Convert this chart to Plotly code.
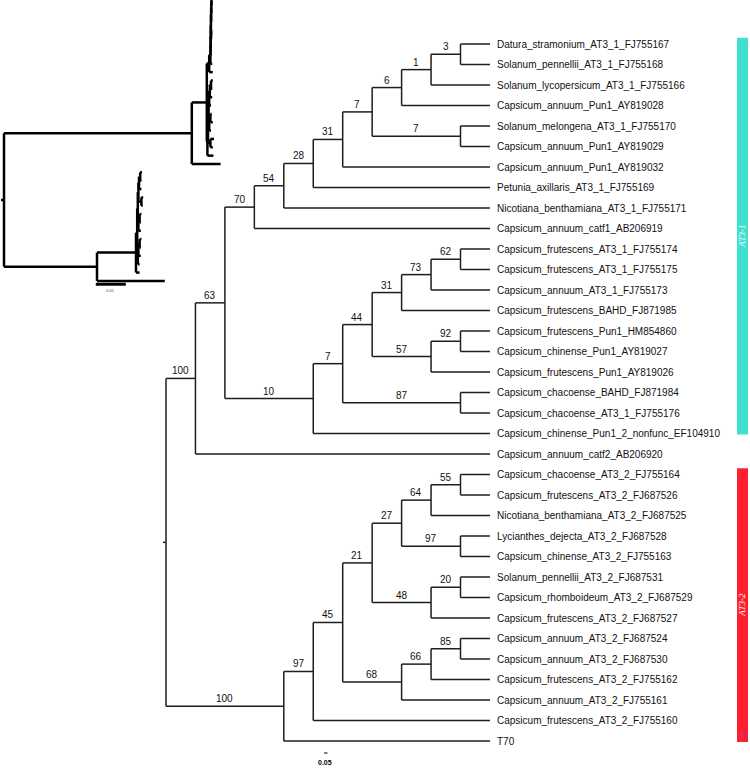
import plotly.graph_objects as go

# ---------------- data ----------------
leaf_names = [
    "Datura_stramonium_AT3_1_FJ755167",
    "Solanum_pennellii_AT3_1_FJ755168",
    "Solanum_lycopersicum_AT3_1_FJ755166",
    "Capsicum_annuum_Pun1_AY819028",
    "Solanum_melongena_AT3_1_FJ755170",
    "Capsicum_annuum_Pun1_AY819029",
    "Capsicum_annuum_Pun1_AY819032",
    "Petunia_axillaris_AT3_1_FJ755169",
    "Nicotiana_benthamiana_AT3_1_FJ755171",
    "Capsicum_annuum_catf1_AB206919",
    "Capsicum_frutescens_AT3_1_FJ755174",
    "Capsicum_frutescens_AT3_1_FJ755175",
    "Capsicum_annuum_AT3_1_FJ755173",
    "Capsicum_frutescens_BAHD_FJ871985",
    "Capsicum_frutescens_Pun1_HM854860",
    "Capsicum_chinense_Pun1_AY819027",
    "Capsicum_frutescens_Pun1_AY819026",
    "Capsicum_chacoense_BAHD_FJ871984",
    "Capsicum_chacoense_AT3_1_FJ755176",
    "Capsicum_chinense_Pun1_2_nonfunc_EF104910",
    "Capsicum_annuum_catf2_AB206920",
    "Capsicum_chacoense_AT3_2_FJ755164",
    "Capsicum_frutescens_AT3_2_FJ687526",
    "Nicotiana_benthamiana_AT3_2_FJ687525",
    "Lycianthes_dejecta_AT3_2_FJ687528",
    "Capsicum_chinense_AT3_2_FJ755163",
    "Solanum_pennellii_AT3_2_FJ687531",
    "Capsicum_rhomboideum_AT3_2_FJ687529",
    "Capsicum_frutescens_AT3_2_FJ687527",
    "Capsicum_annuum_AT3_2_FJ687524",
    "Capsicum_annuum_AT3_2_FJ687530",
    "Capsicum_frutescens_AT3_2_FJ755162",
    "Capsicum_annuum_AT3_2_FJ755161",
    "Capsicum_frutescens_AT3_2_FJ755160",
    "T70",
]

# internal nodes: children listed top to bottom (ints = leaf indices)
node_children = {
    "n3": [0, 1], "n1": ["n3", 2], "n6": ["n1", 3], "n7b": [4, 5],
    "n7a": ["n6", "n7b"], "n31": ["n7a", 6], "n28": ["n31", 7],
    "n54": ["n28", 8], "n70": ["n54", 9],
    "n62": [10, 11], "n73": ["n62", 12], "n31b": ["n73", 13],
    "n92": [14, 15], "n57": ["n92", 16], "n44": ["n31b", "n57"],
    "n87": [17, 18], "n7c": ["n44", "n87"], "n10": ["n7c", 19],
    "n63": ["n70", "n10"], "n100a": ["n63", 20],
    "n55": [21, 22], "n64": ["n55", 23], "n97b": [24, 25],
    "n27": ["n64", "n97b"], "n20": [26, 27], "n48": ["n20", 28],
    "n21": ["n27", "n48"], "n85": [29, 30], "n66": ["n85", 31],
    "n68": ["n66", 32], "n45": ["n21", "n68"], "n97": ["n45", 33],
    "n100b": ["n97", 34],
    "root": ["n100a", "n100b"],
}

node_support = {
    "n3": 3, "n1": 1, "n6": 6, "n7b": 7, "n7a": 7, "n31": 31, "n28": 28,
    "n54": 54, "n70": 70, "n62": 62, "n73": 73, "n31b": 31, "n92": 92,
    "n57": 57, "n44": 44, "n87": 87, "n7c": 7, "n10": 10, "n63": 63,
    "n100a": 100, "n55": 55, "n64": 64, "n97b": 97, "n27": 27, "n20": 20,
    "n48": 48, "n21": 21, "n85": 85, "n66": 66, "n68": 68, "n45": 45,
    "n97": 97, "n100b": 100,
}

# inset phylogram branch lengths (substitutions/site, estimated)
inset_node_len = {
    "root": 0.0, "n100a": 0.313, "n100b": 0.155, "n63": 0.025,
    "n70": 0.004, "n54": 0.002, "n28": 0.0003, "n31": 0.0003, "n7a": 0.0003,
    "n6": 0.0003, "n1": 0.0003, "n3": 0.0003, "n7b": 0.0003,
    "n10": 0.001, "n7c": 0.001, "n44": 0.001, "n31b": 0.001, "n73": 0.001,
    "n62": 0.002, "n92": 0.002, "n57": 0.001, "n87": 0.004,
    "n97": 0.065, "n45": 0.002, "n21": 0.001, "n27": 0.001, "n64": 0.001,
    "n55": 0.002, "n97b": 0.005, "n48": 0.001, "n20": 0.002, "n68": 0.001,
    "n66": 0.001, "n85": 0.002,
}
inset_leaf_len = [
    0.0003, 0.0003, 0.0003, 0.0003, 0.0003, 0.0003, 0.0003, 0.0003, 0.003, 0.006,
    0.003, 0.002, 0.004, 0.003, 0.002, 0.004, 0.003, 0.006, 0.004, 0.010,
    0.048,
    0.003, 0.002, 0.004, 0.003, 0.002, 0.003, 0.002, 0.004, 0.003, 0.002,
    0.004, 0.003, 0.006,
    0.113,
]

clade_bars = [("AT3-1", 0, 19, "#40E0D0"), ("AT3-2", 21, 34, "#FF1E2B")]
scale_value = 0.05

# ---------------- layout helpers ----------------
def is_leaf(n):
    return isinstance(n, int)

def height(n):
    if is_leaf(n):
        return 0
    return 1 + max(height(c) for c in node_children[n])

N_LEVELS = height("root")

def level(n):
    return N_LEVELS - height(n)

def ypos(n):
    if is_leaf(n):
        return float(n)
    ch = node_children[n]
    return (ypos(ch[0]) + ypos(ch[-1])) / 2.0

parent = {}
for p, ch in node_children.items():
    for c in ch:
        parent[c] = p

# main cladogram segments
mx, my = [], []
for n, ch in node_children.items():
    xn = level(n)
    mx += [xn, xn, None]
    my += [ypos(ch[0]), ypos(ch[-1]), None]
    for c in ch:
        mx += [xn, level(c), None]
        my += [ypos(c), ypos(c), None]
mx += [level("root") - 0.1, level("root"), None]
my += [ypos("root"), ypos("root"), None]

# inset phylogram positions
def inset_x(n):
    if n == "root":
        return 0.0
    ln = inset_leaf_len[n] if is_leaf(n) else inset_node_len[n]
    return inset_x(parent[n]) + ln

ix, iy = [], []
for n, ch in node_children.items():
    xn = inset_x(n)
    ix += [xn, xn, None]
    iy += [ypos(ch[0]), ypos(ch[-1]), None]
    for c in ch:
        ix += [xn, inset_x(c), None]
        iy += [ypos(c), ypos(c), None]
ix += [-0.005, 0.0, None]
iy += [ypos("root"), ypos("root"), None]

fig = go.Figure()
fig.add_trace(go.Scatter(x=mx, y=my, mode="lines",
                         line=dict(color="#1e1e1e", width=1.5),
                         hoverinfo="skip", xaxis="x", yaxis="y"))
fig.add_trace(go.Scatter(x=ix, y=iy, mode="lines",
                         line=dict(color="black", width=2.5),
                         hoverinfo="skip", xaxis="x2", yaxis="y2"))
# inset scale bar
fig.add_trace(go.Scatter(x=[0.153, 0.153 + scale_value], y=[34.4, 34.4], mode="lines",
                         line=dict(color="black", width=3),
                         hoverinfo="skip", xaxis="x2", yaxis="y2"))

FONT = "Arial, 'Liberation Sans', sans-serif"
ann = []
for i, name in enumerate(leaf_names):
    ann.append(dict(x=level(i), y=i, xref="x", yref="y", text=name,
                    showarrow=False, xanchor="left", yanchor="middle", xshift=5,
                    font=dict(family=FONT, size=10, color="#111111")))
for n, s in node_support.items():
    xm = (level(parent[n]) + level(n)) / 2.0
    ann.append(dict(x=xm, y=ypos(n), xref="x", yref="y", text=str(s),
                    showarrow=False, xanchor="center", yanchor="bottom", yshift=0,
                    font=dict(family=FONT, size=10, color="#111111")))

shapes = []
for label, a, b, col in clade_bars:
    y0, y1 = a - 0.3, b + 0.05
    shapes.append(dict(type="rect", xref="paper", yref="y",
                       x0=737 / 750, x1=748 / 750, y0=y0, y1=y1,
                       fillcolor=col, line=dict(width=0), layer="below"))
    ann.append(dict(x=742.5 / 750, y=(y0 + y1) / 2, xref="paper", yref="y",
                    text="<i>" + label + "</i>", textangle=-90, showarrow=False,
                    xanchor="center", yanchor="middle",
                    font=dict(family="'Liberation Serif', 'Times New Roman', serif",
                              size=9, color="#ffffff")))
ann.append(dict(x=742.5 / 750, y=33.75, xref="paper", yref="y", text="★",
                showarrow=False, xanchor="center", yanchor="middle",
                font=dict(family="'DejaVu Sans', sans-serif", size=7, color="#8a3fe0")))

# main scale bar
shapes.append(dict(type="line", xref="paper", yref="paper",
                   x0=324 / 750, x1=327.5 / 750, y0=1 - 753 / 768, y1=1 - 753 / 768,
                   line=dict(color="black", width=1)))
ann.append(dict(x=325 / 750, y=1 - 762 / 768, xref="paper", yref="paper",
                text="<b>0.05</b>", showarrow=False, xanchor="center", yanchor="middle",
                font=dict(family=FONT, size=7, color="black")))
# inset scale label
ann.append(dict(x=0.178, y=35.1, xref="x2", yref="y2", text="0.05",
                showarrow=False, font=dict(family=FONT, size=4, color="#444")))

PX_LEVEL = 29.45
ROOT_PX = 166
LEAF_PX0, LEAF_DY = 44, 20.5
fig.update_layout(
    width=750, height=768, margin=dict(l=0, r=0, t=0, b=0),
    paper_bgcolor="white", plot_bgcolor="rgba(0,0,0,0)",
    showlegend=False,
    xaxis=dict(domain=[0, 1], range=[-ROOT_PX / PX_LEVEL, (750 - ROOT_PX) / PX_LEVEL],
               visible=False, fixedrange=True),
    yaxis=dict(domain=[0, 1], range=[(768 - LEAF_PX0) / LEAF_DY, -LEAF_PX0 / LEAF_DY],
               visible=False, fixedrange=True),
    xaxis2=dict(domain=[0, 0.4], range=[-4 / 600, 296 / 600], anchor="y2",
                visible=False, fixedrange=True),
    yaxis2=dict(domain=[1 - 300 / 768, 1], range=[303 / 8.35, 3 / 8.35], anchor="x2",
                visible=False, fixedrange=True),
    annotations=ann, shapes=shapes,
)
fig.write_html(
    "out.html",
    config={"displayModeBar": False},
    post_script="document.body.style.margin='0';document.body.style.overflow='hidden';",
)
